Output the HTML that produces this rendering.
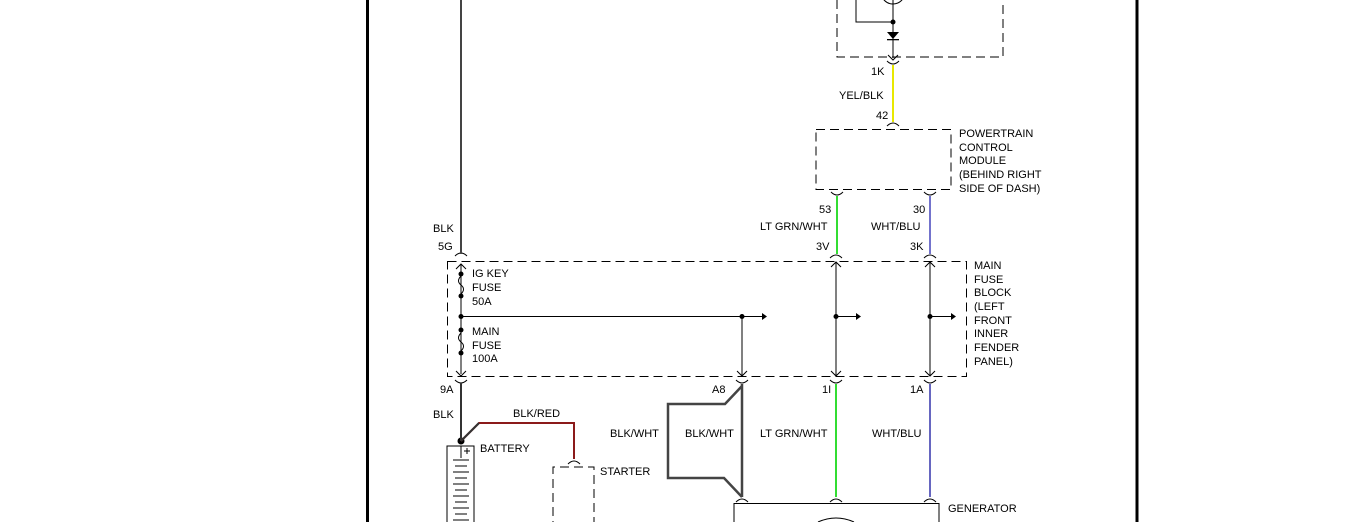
<!DOCTYPE html>
<html><head><meta charset="utf-8"><style>
html,body{margin:0;padding:0;background:#fff;}
svg{display:block;}
text{font-family:"Liberation Sans",sans-serif;font-size:11px;fill:#000;}
</style></head><body>
<svg width="1346" height="522" viewBox="0 0 1346 522" xmlns="http://www.w3.org/2000/svg">
<rect width="1346" height="522" fill="#fff"/>
<!-- borders -->
<line x1="367.5" y1="0" x2="367.5" y2="522" stroke="#000" stroke-width="3"/>
<line x1="1137" y1="0" x2="1137" y2="522" stroke="#000" stroke-width="3"/>

<g fill="none" stroke="#000" stroke-width="1">
<!-- top dashed module -->
<path d="M837 0 V57 H1003 V0" stroke-dasharray="9,5"/>
<circle cx="893" cy="-8" r="12"/>
<path d="M856 0 V22 H893"/>
<line x1="893" y1="0" x2="893" y2="58"/>
<path d="M888 55 L893 60 L898 55"/>
<!-- PCM -->
<rect x="816" y="129.5" width="135" height="60" stroke-dasharray="9,5"/>
<!-- fuse block -->
<rect x="447.5" y="261.5" width="519" height="115" stroke-dasharray="9,5"/>
<line x1="461" y1="264" x2="461" y2="374"/>
<line x1="461" y1="316.5" x2="762" y2="316.5"/>
<line x1="742" y1="316" x2="742" y2="376"/>
<line x1="836" y1="262" x2="836" y2="376"/>
<line x1="836" y1="316.5" x2="857" y2="316.5"/>
<line x1="930" y1="262" x2="930" y2="376"/>
<line x1="930" y1="316.5" x2="952" y2="316.5"/>
<!-- arrow ticks -->
<path d="M456 269 L461 264 L466 269"/><path d="M456 371 L461 376 L466 371"/>
<path d="M737 371 L742 376 L747 371"/>
<path d="M831 267 L836 262 L841 267"/><path d="M831 371 L836 376 L841 371"/>
<path d="M925 267 L930 262 L935 267"/><path d="M925 371 L930 376 L935 371"/>
<!-- connector cups -->
<path d="M455 256 Q461 250 467 256"/>
<path d="M455 380 Q461 386 467 380"/>
<path d="M736 380 Q742 386 748 380"/>
<path d="M830 380 Q836 386 842 380"/>
<path d="M924 380 Q930 386 936 380"/>
<path d="M830 258 Q836 252 842 258"/>
<path d="M924 258 Q930 252 936 258"/>
<path d="M831 192 Q837 198 843 192"/>
<path d="M924 192 Q930 198 936 192"/>
<path d="M887 61 Q893 67 899 61"/>
<path d="M887 126 Q893 120 899 126"/>
<path d="M568 464 Q574 458 580 464"/>
<path d="M736 502 Q742 496 748 502"/>
<path d="M830 502 Q836 496 842 502"/>
<path d="M924 502 Q930 496 936 502"/>
<!-- fuses -->
<path d="M461 276 Q456 281 461 285 Q466 289 461 294"/>
<path d="M461 333 Q456 338 461 342 Q466 346 461 351"/>
<!-- starter -->
<path d="M553 530 V467 H594 V530" stroke-dasharray="9,5"/>
<!-- battery -->
<path d="M447 530 V446 H474 V530"/>
<line x1="461" y1="446" x2="461" y2="458"/>
<path d="M453 460 H469 M455 466 H467 M453 472 H469 M455 478 H467 M453 484 H469 M455 490 H467 M453 496 H469 M455 502 H467 M453 508 H469 M455 514 H467 M453 520 H469"/>
<path d="M464 451 H470 M467 448 V454"/>
<!-- generator -->
<path d="M734 530 V503.5 H939 V530"/>
<path d="M818 522 Q836 514 854 522"/>
</g>
<!-- filled bits -->
<g fill="#000">
<circle cx="893" cy="22" r="2.5"/>
<path d="M887 32 H899 L893 39 Z"/><rect x="887" y="39" width="12" height="1.3"/>
<circle cx="461" cy="274" r="2.5"/><circle cx="461" cy="296" r="2.5"/>
<circle cx="461" cy="316.5" r="2.5"/><circle cx="461" cy="330" r="2.5"/><circle cx="461" cy="353" r="2.5"/>
<circle cx="742" cy="316.5" r="2.5"/><circle cx="836" cy="316.5" r="2.5"/><circle cx="930" cy="316.5" r="2.5"/>
<path d="M762 313 L767 316.5 L762 320 Z"/>
<path d="M856 313 L861 316.5 L856 320 Z"/>
<path d="M951 313 L956 316.5 L951 320 Z"/>
<circle cx="461" cy="441" r="3.5"/>
</g>
<!-- wires -->
<line x1="461" y1="0" x2="461" y2="254" stroke="#444" stroke-width="2"/>
<line x1="461" y1="383" x2="461" y2="441" stroke="#333" stroke-width="2"/>
<path d="M461 441 L479 423 H574 V459" fill="none" stroke="#8b1a1a" stroke-width="2"/>
<path d="M461 441 L479 423" stroke="#333" stroke-width="2"/>
<line x1="893" y1="65" x2="893" y2="122" stroke="#e8e800" stroke-width="2"/>
<line x1="837" y1="196" x2="837" y2="254" stroke="#33dd33" stroke-width="2"/>
<line x1="930" y1="196" x2="930" y2="254" stroke="#4444bb" stroke-width="1.5"/>
<line x1="836" y1="384" x2="836" y2="497" stroke="#33dd33" stroke-width="2"/>
<line x1="930" y1="384" x2="930" y2="497" stroke="#3333aa" stroke-width="1.5"/>
<line x1="742" y1="384" x2="742" y2="497" stroke="#444" stroke-width="2.5"/>
<path d="M742 386 L725 404 H668 V478 H724 L742 497" fill="none" stroke="#444" stroke-width="2.5"/>

<!-- labels -->
<text x="871" y="75">1K</text>
<text x="839" y="99">YEL/BLK</text>
<text x="876" y="119">42</text>
<text x="959" y="137">POWERTRAIN</text>
<text x="959" y="151">CONTROL</text>
<text x="959" y="164">MODULE</text>
<text x="959" y="178">(BEHIND RIGHT</text>
<text x="959" y="192">SIDE OF DASH)</text>
<text x="819" y="213">53</text>
<text x="913" y="213">30</text>
<text x="760" y="230">LT GRN/WHT</text>
<text x="871" y="230">WHT/BLU</text>
<text x="816" y="250">3V</text>
<text x="910" y="250">3K</text>
<text x="433" y="232">BLK</text>
<text x="438" y="250">5G</text>
<text x="472" y="277">IG KEY</text>
<text x="472" y="291">FUSE</text>
<text x="472" y="305">50A</text>
<text x="472" y="335">MAIN</text>
<text x="472" y="349">FUSE</text>
<text x="472" y="362">100A</text>
<text x="974" y="269">MAIN</text>
<text x="974" y="283">FUSE</text>
<text x="974" y="296">BLOCK</text>
<text x="974" y="310">(LEFT</text>
<text x="974" y="324">FRONT</text>
<text x="974" y="337">INNER</text>
<text x="974" y="351">FENDER</text>
<text x="974" y="365">PANEL)</text>
<text x="440" y="393">9A</text>
<text x="712" y="393">A8</text>
<text x="822" y="393">1I</text>
<text x="910" y="393">1A</text>
<text x="433" y="418">BLK</text>
<text x="513" y="417">BLK/RED</text>
<text x="480" y="452">BATTERY</text>
<text x="610" y="437">BLK/WHT</text>
<text x="685" y="437">BLK/WHT</text>
<text x="760" y="437">LT GRN/WHT</text>
<text x="872" y="437">WHT/BLU</text>
<text x="600" y="475">STARTER</text>
<text x="948" y="512">GENERATOR</text>
</svg>
</body></html>
